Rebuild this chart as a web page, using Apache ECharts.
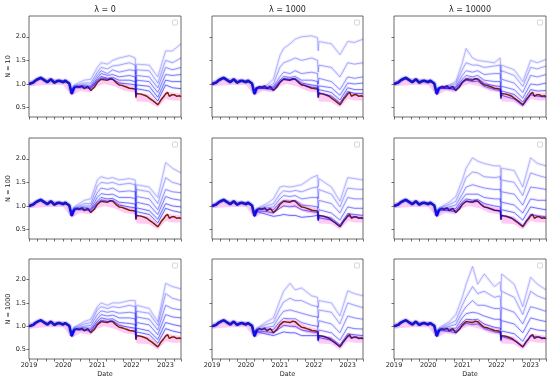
<!DOCTYPE html>
<html><head><meta charset="utf-8">
<script src="https://cdn.jsdelivr.net/npm/echarts@6/dist/echarts.min.js"></script>
<style>html,body{margin:0;padding:0;background:#fff}#c{width:550px;height:382px}</style>
</head><body><div id="c"></div>
<script>
// ---------- data ----------
const lambdaLabels = ['λ = 0', 'λ = 1000', 'λ = 10000'];
const nLabels = ['N = 10', 'N = 100', 'N = 1000'];
const yTicks = [0.5, 1.0, 1.5, 2.0];

// benchmark (dark red) line
const redDates = [2019.00,2019.05,2019.12,2019.20,2019.28,2019.35,2019.45,2019.54,2019.64,2019.74,2019.82,2019.88,2020.00,2020.06,2020.11,2020.18,2020.25,2020.32,2020.40,2020.47,2020.55,2020.62,2020.72,2020.81,2020.91,2021.00,2021.11,2021.20,2021.30,2021.38,2021.45,2021.55,2021.64,2021.72,2021.79,2021.87,2021.94,2022.06,2022.12,2022.13,2022.15,2022.23,2022.30,2022.38,2022.45,2022.52,2022.60,2022.67,2022.77,2022.82,2022.87,2022.94,2023.00,2023.06,2023.11,2023.18,2023.26,2023.32,2023.36,2023.41,2023.45];
const redVals  = [1.00,0.97,1.02,1.07,1.10,1.12,1.07,1.03,1.10,1.02,1.05,1.07,1.03,1.06,1.10,1.00,0.78,0.91,0.95,0.93,0.96,0.90,0.95,0.86,0.93,1.03,1.10,1.09,1.08,1.11,1.10,1.03,0.98,0.97,0.95,0.93,0.91,0.90,0.88,0.71,0.80,0.79,0.78,0.76,0.74,0.70,0.66,0.62,0.56,0.61,0.67,0.73,0.79,0.82,0.74,0.77,0.77,0.74,0.72,0.75,0.73];

// dense early blue bundle (all portfolios together)
const earlyDates = [2019.00,2019.05,2019.12,2019.20,2019.28,2019.35,2019.45,2019.54,2019.64,2019.74,2019.82,2019.88,2020.00,2020.06,2020.11,2020.18,2020.25,2020.32];
const earlyVals  = [1.00,0.97,1.03,1.08,1.11,1.13,1.08,1.04,1.10,1.03,1.06,1.07,1.04,1.07,1.10,1.01,0.80,0.92];

// pink band
const pinkDates = [2019.0,2019.5,2020.0,2020.25,2020.5,2020.8,2021.0,2021.2,2021.5,2021.8,2022.1,2022.15,2022.5,2022.77,2023.0,2023.2,2023.45];
const pinkLo    = [0.95,0.98,0.98,0.75,0.85,0.82,0.95,1.00,0.95,0.85,0.82,0.63,0.62,0.50,0.68,0.65,0.65];
const pinkHi    = [1.08,1.12,1.10,0.85,0.96,0.95,1.10,1.15,1.12,1.00,0.95,0.82,0.78,0.62,0.85,0.82,0.80];

// blue portfolio lines (after the early bundle)
const blueDates = [2020.25,2020.32,2020.62,2020.81,2021.00,2021.11,2021.30,2021.45,2021.64,2021.94,2022.11,2022.13,2022.15,2022.52,2022.77,2023.00,2023.20,2023.45];

const n10_lam0 = [
 [0.84,0.98,1.08,1.10,1.35,1.45,1.42,1.50,1.55,1.60,1.55,1.20,1.42,1.40,1.15,1.70,1.70,1.85],
 [0.82,0.96,1.02,1.02,1.25,1.35,1.32,1.38,1.40,1.45,1.40,1.05,1.30,1.28,1.02,1.50,1.45,1.55],
 [0.81,0.95,0.98,0.97,1.18,1.28,1.22,1.30,1.25,1.30,1.28,0.95,1.18,1.15,0.92,1.35,1.30,1.35],
 [0.80,0.94,0.96,0.94,1.12,1.22,1.18,1.20,1.15,1.18,1.15,0.88,1.08,1.05,0.82,1.20,1.18,1.20],
 [0.80,0.93,0.94,0.92,1.08,1.16,1.12,1.14,1.08,1.08,1.05,0.82,0.98,0.95,0.72,1.08,1.05,1.05],
 [0.79,0.92,0.92,0.90,1.06,1.13,1.10,1.10,1.02,1.00,0.98,0.76,0.90,0.85,0.64,0.98,0.92,0.90]];
const n10_lam1000 = [
 [0.80,0.93,0.98,1.10,1.60,1.75,1.85,1.95,2.00,2.02,1.98,1.70,1.90,1.85,1.62,1.90,1.88,1.95],
 [0.80,0.93,0.95,1.00,1.35,1.45,1.50,1.55,1.50,1.55,1.50,1.25,1.40,1.35,1.15,1.45,1.42,1.45],
 [0.79,0.92,0.93,0.95,1.15,1.25,1.22,1.28,1.22,1.25,1.22,1.00,1.12,1.05,0.88,1.15,1.12,1.15],
 [0.79,0.92,0.92,0.92,1.08,1.16,1.14,1.16,1.08,1.08,1.05,0.85,0.96,0.92,0.76,1.02,1.00,1.02],
 [0.78,0.91,0.91,0.89,1.05,1.12,1.10,1.12,1.02,0.98,0.96,0.76,0.88,0.82,0.66,0.92,0.88,0.88],
 [0.78,0.91,0.90,0.87,1.03,1.10,1.08,1.10,0.99,0.93,0.92,0.72,0.82,0.74,0.60,0.84,0.80,0.80]];
const n10_lam10000 = [
 [0.80,0.93,0.98,1.05,1.45,1.75,1.55,1.50,1.48,1.45,1.55,1.25,1.40,1.30,1.05,1.50,1.45,1.52],
 [0.79,0.93,0.96,1.00,1.30,1.45,1.40,1.40,1.35,1.38,1.40,1.10,1.28,1.18,0.95,1.35,1.32,1.38],
 [0.79,0.92,0.94,0.95,1.18,1.28,1.25,1.28,1.20,1.22,1.22,0.95,1.10,1.02,0.82,1.18,1.15,1.20],
 [0.78,0.92,0.92,0.92,1.10,1.18,1.15,1.18,1.08,1.05,1.05,0.82,0.95,0.88,0.70,1.00,0.98,1.02],
 [0.78,0.91,0.91,0.89,1.05,1.12,1.10,1.12,1.01,0.96,0.95,0.75,0.85,0.78,0.62,0.88,0.85,0.86],
 [0.78,0.91,0.90,0.87,1.03,1.08,1.05,1.06,0.95,0.88,0.86,0.68,0.76,0.68,0.54,0.77,0.74,0.72]];
const n100_lam0 = [
 [0.82,0.98,1.12,1.15,1.55,1.62,1.58,1.60,1.55,1.58,1.55,1.20,1.45,1.40,1.18,1.92,1.80,1.70],
 [0.81,0.96,1.05,1.05,1.42,1.50,1.48,1.50,1.45,1.48,1.45,1.10,1.35,1.30,1.05,1.60,1.50,1.45],
 [0.80,0.95,1.00,1.00,1.28,1.38,1.35,1.38,1.30,1.32,1.30,0.98,1.20,1.15,0.92,1.35,1.30,1.28],
 [0.80,0.94,0.97,0.95,1.18,1.26,1.24,1.25,1.18,1.18,1.16,0.88,1.08,1.02,0.82,1.20,1.15,1.12],
 [0.79,0.93,0.94,0.92,1.10,1.18,1.15,1.16,1.08,1.06,1.04,0.80,0.96,0.90,0.72,1.05,1.00,0.98],
 [0.79,0.92,0.92,0.89,1.06,1.13,1.10,1.12,1.02,0.98,0.96,0.74,0.88,0.82,0.64,0.95,0.90,0.86]];
const n100_lam1000 = [
 [0.80,0.95,1.05,1.15,1.40,1.42,1.40,1.42,1.45,1.60,1.65,1.40,1.58,1.40,1.10,1.60,1.58,1.55],
 [0.80,0.94,1.00,1.05,1.25,1.32,1.30,1.33,1.30,1.38,1.40,1.15,1.35,1.25,0.98,1.38,1.36,1.35],
 [0.79,0.93,0.96,0.98,1.15,1.22,1.20,1.22,1.15,1.18,1.18,0.95,1.12,1.05,0.85,1.18,1.15,1.15],
 [0.79,0.92,0.93,0.92,1.06,1.12,1.10,1.12,1.02,1.00,0.98,0.78,0.92,0.85,0.70,0.98,0.95,0.95],
 [0.78,0.90,0.88,0.85,0.95,1.00,0.98,1.00,0.92,0.88,0.86,0.70,0.80,0.74,0.60,0.84,0.82,0.80],
 [0.77,0.88,0.82,0.78,0.80,0.82,0.80,0.80,0.76,0.78,0.80,0.68,0.75,0.70,0.57,0.78,0.76,0.74]];
const n100_lam10000 = [
 [0.80,0.96,1.08,1.20,1.55,1.80,2.02,1.95,1.90,1.85,1.85,1.55,1.80,1.75,1.40,2.02,1.90,1.85],
 [0.80,0.95,1.03,1.10,1.40,1.60,1.72,1.70,1.62,1.60,1.62,1.30,1.55,1.50,1.22,1.70,1.65,1.60],
 [0.79,0.94,0.98,1.02,1.25,1.40,1.45,1.42,1.38,1.35,1.35,1.08,1.30,1.25,1.02,1.40,1.38,1.35],
 [0.79,0.93,0.95,0.95,1.15,1.25,1.25,1.25,1.18,1.15,1.15,0.92,1.08,1.02,0.85,1.15,1.12,1.12],
 [0.78,0.92,0.92,0.90,1.08,1.15,1.12,1.14,1.05,1.00,0.98,0.78,0.92,0.86,0.70,0.98,0.95,0.92],
 [0.78,0.91,0.90,0.87,1.03,1.10,1.08,1.10,0.98,0.91,0.90,0.71,0.80,0.72,0.58,0.82,0.79,0.77]];
const n1000_lam0 = [
 [0.82,0.98,1.10,1.15,1.42,1.50,1.45,1.50,1.50,1.55,1.55,1.20,1.45,1.38,1.10,1.92,1.85,1.80],
 [0.81,0.97,1.05,1.08,1.35,1.42,1.38,1.42,1.40,1.45,1.42,1.10,1.32,1.28,1.02,1.70,1.60,1.55],
 [0.80,0.95,1.00,1.02,1.25,1.33,1.30,1.32,1.28,1.30,1.28,1.00,1.20,1.15,0.92,1.45,1.38,1.35],
 [0.80,0.94,0.97,0.96,1.16,1.25,1.22,1.24,1.18,1.18,1.16,0.90,1.08,1.03,0.82,1.25,1.20,1.18],
 [0.79,0.93,0.94,0.92,1.10,1.18,1.15,1.16,1.08,1.06,1.04,0.80,0.96,0.90,0.72,1.08,1.04,1.00],
 [0.79,0.92,0.92,0.89,1.06,1.13,1.10,1.12,1.02,0.98,0.96,0.74,0.88,0.82,0.64,0.95,0.90,0.86]];
const n1000_lam1000 = [
 [0.80,0.96,1.10,1.18,1.55,1.75,1.92,1.78,1.82,1.65,1.62,1.40,1.55,1.50,1.22,1.76,1.70,1.65],
 [0.80,0.95,1.04,1.08,1.38,1.52,1.60,1.55,1.55,1.45,1.42,1.18,1.35,1.30,1.05,1.50,1.45,1.40],
 [0.79,0.94,0.98,1.00,1.22,1.32,1.35,1.32,1.28,1.22,1.20,0.98,1.12,1.05,0.86,1.22,1.18,1.15],
 [0.79,0.92,0.94,0.93,1.10,1.17,1.16,1.16,1.08,1.02,1.00,0.80,0.92,0.86,0.70,0.98,0.95,0.94],
 [0.78,0.90,0.88,0.86,0.96,1.02,1.00,1.00,0.92,0.88,0.86,0.70,0.80,0.74,0.60,0.84,0.82,0.80],
 [0.77,0.88,0.83,0.80,0.85,0.88,0.86,0.86,0.80,0.80,0.80,0.68,0.76,0.70,0.57,0.78,0.76,0.74]];
const n1000_lam10000 = [
 [0.80,0.97,1.10,1.25,1.62,1.90,2.28,1.90,2.12,1.85,1.95,1.75,2.12,1.90,1.42,2.05,1.90,1.78],
 [0.80,0.95,1.05,1.12,1.45,1.62,1.85,1.70,1.75,1.62,1.65,1.40,1.75,1.62,1.25,1.75,1.65,1.58],
 [0.79,0.94,1.00,1.04,1.30,1.42,1.55,1.45,1.45,1.38,1.38,1.12,1.40,1.30,1.05,1.42,1.38,1.32],
 [0.79,0.93,0.96,0.96,1.18,1.27,1.30,1.28,1.22,1.15,1.15,0.92,1.12,1.05,0.86,1.18,1.14,1.10],
 [0.78,0.92,0.92,0.90,1.08,1.15,1.14,1.15,1.05,0.98,0.96,0.76,0.90,0.84,0.68,0.96,0.92,0.90],
 [0.78,0.91,0.89,0.86,1.00,1.06,1.04,1.05,0.95,0.88,0.86,0.68,0.78,0.70,0.56,0.80,0.77,0.74]];

// ---------- layout ----------
const panels = [
  [n10_lam0, n10_lam1000, n10_lam10000],
  [n100_lam0, n100_lam1000, n100_lam10000],
  [n1000_lam0, n1000_lam1000, n1000_lam10000]];
const colLeft = [29, 212, 394], colW = [152, 151, 152];
const rowTop = [16, 138, 259], rowH = [101, 101, 100];
const lineOpacity = [0.26, 0.33, 0.42, 0.5, 0.58, 0.62];
const FONT = 'DejaVu Sans';

function pinkBand(params, api) {
  if (params.dataIndex !== 0) return null;
  const pts = [];
  for (let k = 0; k < pinkDates.length; k++) pts.push(api.coord([pinkDates[k], pinkHi[k]]));
  for (let k = pinkDates.length - 1; k >= 0; k--) pts.push(api.coord([pinkDates[k], pinkLo[k]]));
  return {type: 'polygon', shape: {points: pts}, style: {fill: 'rgba(255,110,225,0.36)'}};
}

const grids = [], xAxes = [], yAxes = [], series = [], graphics = [];
for (let r = 0; r < 3; r++) {
  for (let c = 0; c < 3; c++) {
    const i = r * 3 + c;
    grids.push({left: colLeft[c], top: rowTop[r], width: colW[c], height: rowH[r],
      show: true, borderColor: '#444', borderWidth: 0.8, backgroundColor: 'transparent', containLabel: false});
    xAxes.push({type: 'value', gridIndex: i, min: 2019, max: 2023.45, interval: 0.25,
      axisLine: {show: false}, splitLine: {show: false},
      axisTick: {show: true, length: 2.5, lineStyle: {color: '#333', width: 0.7}},
      axisLabel: {show: r === 2, interval: 0, fontSize: 6.5, fontFamily: FONT, color: '#222', margin: 3,
        formatter: v => (Math.abs(v - Math.round(v)) < 1e-6 ? String(Math.round(v)) : '')},
      name: r === 2 ? 'Date' : '', nameLocation: 'middle', nameGap: 12,
      nameTextStyle: {fontSize: 6.5, fontFamily: FONT, color: '#222'}});
    yAxes.push({type: 'value', gridIndex: i, min: 0.3, max: 2.44,
      axisLine: {show: false}, splitLine: {show: false},
      axisTick: {show: true, length: 2.5, customValues: yTicks, lineStyle: {color: '#333', width: 0.7}},
      axisLabel: {show: c === 0, customValues: yTicks, fontSize: 6.5, fontFamily: FONT, color: '#222', margin: 3,
        formatter: v => v.toFixed(1)},
      name: c === 0 ? nLabels[r] : '', nameLocation: 'middle', nameGap: 17,
      nameTextStyle: {fontSize: 6.5, fontFamily: FONT, color: '#222'}});

    const base = {type: 'line', xAxisIndex: i, yAxisIndex: i, symbol: 'none', silent: true, animation: false};
    // pink band
    series.push({type: 'custom', xAxisIndex: i, yAxisIndex: i, silent: true, animation: false,
      clip: true, renderItem: pinkBand,
      data: pinkDates.map((d, k) => [d, pinkLo[k], pinkHi[k]])});
    // benchmark
    series.push(Object.assign({}, base, {lineStyle: {color: '#7a1e0a', width: 1.5},
      data: redDates.map((d, k) => [d, redVals[k]])}));
    // early dense bundle
    series.push(Object.assign({}, base, {lineStyle: {color: '#8080ff', width: 5, opacity: 0.35},
      data: earlyDates.map((d, k) => [d, earlyVals[k]])}));
    series.push(Object.assign({}, base, {lineStyle: {color: '#1414c8', width: 2.6},
      data: earlyDates.map((d, k) => [d, earlyVals[k]])}));
    // blue portfolio lines: soft halo + thin line
    panels[r][c].forEach((vals, j) => {
      const pts = blueDates.map((d, k) => [d, vals[k]]);
      series.push(Object.assign({}, base, {lineStyle: {color: '#3030ff', width: 3, opacity: 0.09}, data: pts}));
      series.push(Object.assign({}, base, {lineStyle: {color: '#0000ff', width: 0.9, opacity: lineOpacity[j]}, data: pts}));
    });
    // empty legend box
    graphics.push({type: 'rect', shape: {x: colLeft[c] + colW[c] - 8.5, y: rowTop[r] + 4, width: 5, height: 5, r: 1},
      style: {fill: '#fff', stroke: '#cccccc', lineWidth: 0.8}, z: 100});
  }
}
for (let c = 0; c < 3; c++) {
  graphics.push({type: 'text', x: colLeft[c] + colW[c] / 2, y: 10,
    style: {text: lambdaLabels[c], align: 'center', verticalAlign: 'middle',
      font: '8px "DejaVu Sans"', fill: '#222'}, z: 100});
}

const chart = echarts.init(document.getElementById('c'), null, {renderer: 'canvas'});
chart.setOption({
  animation: false,
  backgroundColor: '#fff',
  textStyle: {fontFamily: FONT},
  grid: grids, xAxis: xAxes, yAxis: yAxes, series: series, graphic: graphics
});
</script></body></html>
